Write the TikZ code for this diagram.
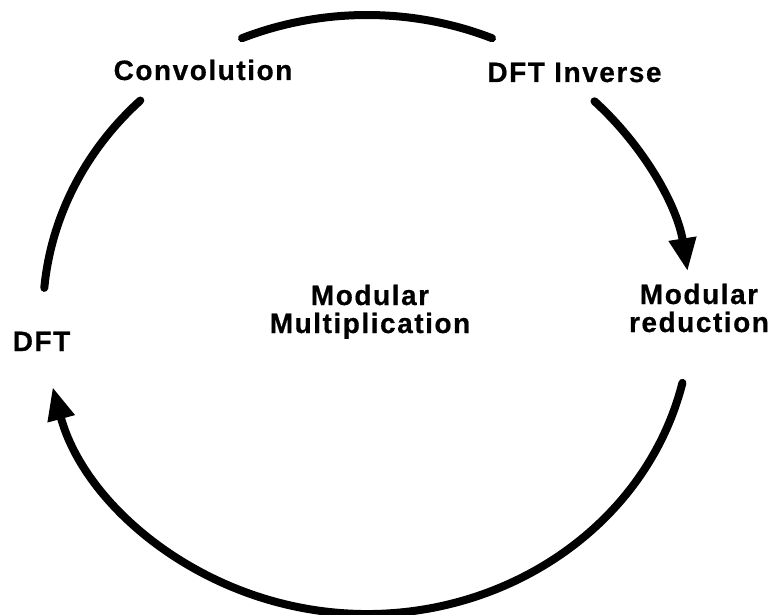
\documentclass[tikz,border=0pt]{standalone}
\usepackage{fontspec}
\usetikzlibrary{arrows.meta}
\newfontfamily\lblfont[LetterSpace=5.5, UprightFont=* Bold, FakeBold=0.6]{Liberation Sans}
\begin{document}
\begin{tikzpicture}[x=1pt,y=1pt,
  lbl/.style={font=\lblfont\fontsize{28pt}{28pt}\selectfont, inner sep=0pt, align=center, anchor=base},
  cyc/.style={line width=8pt, line cap=round},
  cycarrow/.style={cyc, -{Triangle[length=33pt,width=26pt]}},
  ell/.style={x radius=324pt, y radius=299.5pt}]
\useasboundingbox (0,0) rectangle (776,614);
\coordinate (O) at (367,299.5);
% arc end points
\path (O) ++(112.7:324pt and 299.5pt) coordinate (t1);
\path (O) ++(134.4:324pt and 299.5pt) coordinate (l1);
\path (O) ++(45.4:324pt and 299.5pt) coordinate (r1);
\path (O) ++(-13.2:324pt and 299.5pt) coordinate (b1);
% labels
\node[lbl] (conv) at (203,534) {Convolution};
\node[lbl] (dftinv) at (574.5,532) {DFT Inverse};
\node[lbl] (dft) at (41.5,263) {DFT};
\node[lbl] (mm) at (370,281) {Modular\\Multiplication};
\node[lbl] (mr) at (699,282) {Modular\\reduction};
% arcs
\draw[cyc] (t1) arc[ell, start angle=112.7, end angle=67.3];
\draw[cyc] (l1) arc[ell, start angle=134.4, end angle=174.9];
\draw[cycarrow] (r1) arc[ell, start angle=45.4, end angle=8.3];
\draw[cycarrow] (b1) arc[ell, start angle=-13.2, end angle=-166];
\end{tikzpicture}
\end{document}
